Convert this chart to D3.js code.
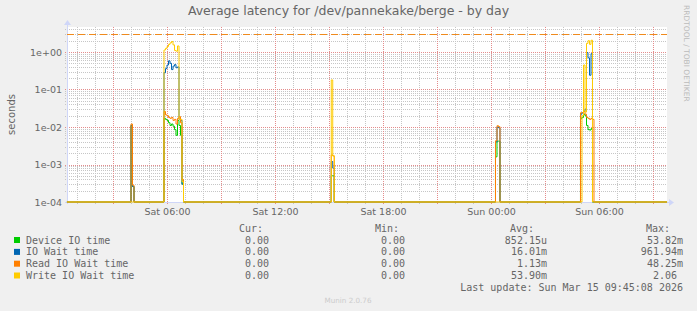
<!DOCTYPE html>
<html lang="en">
<head>
    <meta charset="UTF-8">
    <title>Average latency for /dev/pannekake/berge - by day</title>
    <style>
        body {
            margin: 0;
            background-color: #f0f0f0;
        }
        svg text {
            font-family: "DejaVu Sans", sans-serif;
            fill: #666;
        }
        .mono {
            font-family: "DejaVu Sans Mono", monospace !important;
            font-size: 10px;
            white-space: pre;
        }
    </style>
</head>
<body>
<div id="chart"></div>
<script src="https://d3js.org/d3.v7.min.js"></script>
<script>
    // --- data (hours after Sat 00:00, values in seconds) ---
    const sampleHours = [
        0.44, 3.917, 4.0, 4.083, 4.167,
        5.75, 5.833, 5.917, 6.0, 6.083, 6.167, 6.25, 6.333, 6.417, 6.5, 6.583, 6.667, 6.75, 6.833, 6.917,
        15.042, 15.125, 15.208, 15.292,
        24.167, 24.25, 24.333, 24.417, 24.5,
        28.889, 28.972, 29.056, 29.139, 29.222, 29.306, 29.389, 29.472, 29.556, 29.639, 29.722,
        33.78
    ];
    const deviceTime = [
        0, 0, 0.011, 0.00026, 0,
        0, 0.017, 0.016, 0.015, 0.013, 0.011, 0.012, 0.0105, 0.0085, 0.006, 0.015, 0.011, 0.006, 0.0003, 0,
        0, 0.0005, 0.0005, 0,
        0, 0.0016, 0.0042, 0.0042, 0,
        0, 0.017, 0.018, 0.022, 0.02, 0.011, 0.0085, 0.0083, 0.009, 0, 0,
        0
    ];
    const ioWaitTime = [
        0, 0, 0.011, 0.00026, 0,
        0, 0.28, 0.36, 0.45, 0.58, 0.5, 0.34, 0.42, 0.46, 0.38, 0.40, 0.016, 0.015, 0.0003, 0,
        0, 0.0012, 0.0008, 0,
        0, 0.004, 0.01, 0.0095, 0,
        0, 0.022, 0.024, 0.026, 0.03, 0.96, 0.7, 0.24, 0.9, 0, 0,
        0
    ];
    const readWaitTime = [
        0, 0, 0.012, 0.00028, 0,
        0, 0.026, 0.021, 0.02, 0.018, 0.017, 0.018, 0.015, 0.016, 0.012, 0.017, 0.019, 0.013, 0.0004, 0,
        0, 0.0018, 0.0017, 0,
        0, 0.0043, 0.0108, 0.0102, 0,
        0, 0.024, 0.024, 0.026, 0.022, 0.018, 0.017, 0.016, 0.017, 0.016, 0,
        0
    ];
    const writeWaitTime = [
        0, 0, 0, 0, 0,
        0, 1.13, 1.25, 1.4, 1.6, 1.75, 1.9, 1.55, 1.1, 1.05, 1.45, 0.016, 0.016, 0.00035, 0,
        0, 0.18, 0.0017, 0,
        0, 0, 0, 0, 0,
        0, 0, 0.02, 0.45, 0.025, 1.7, 2.0, 1.6, 2.06, 0, 0,
        0
    ];
    const hruleValue = 3;

    const seriesNames = ["Device IO time", "IO Wait time", "Read IO Wait time", "Write IO Wait time"];
    const seriesColors = ["#00cc00", "#0066b3", "#ff8000", "#ffcc00"];
    const curValues = ["0.00", "0.00", "0.00", "0.00"];
    const minValues = ["0.00", "0.00", "0.00", "0.00"];
    const avgValues = ["852.15u", "16.01m", "1.13m", "53.90m"];
    const maxValues = ["53.82m", "961.94m", "48.25m", "2.06"];
    const yTickValues = [1e-4, 1e-3, 1e-2, 1e-1, 1e0];
    const lastUpdate = "Last update: Sun Mar 15 09:45:08 2026";

    // --- 1. SETUP ---
    const W = 697, H = 311;
    const margin = {top: 27, right: 30, bottom: 109, left: 67};
    const width = W - margin.left - margin.right;   // 600
    const height = H - margin.top - margin.bottom;  // 175

    const svg = d3.select("#chart").append("svg")
        .attr("width", W)
        .attr("height", H);

    const base = Date.UTC(2026, 2, 14, 0, 0);
    const toDate = h => new Date(base + h * 3600e3);

    // --- 2. SCALES ---
    const x = d3.scaleUtc()
        .domain([toDate(0.444), toDate(33.778)])
        .range([0, width]);

    const y = d3.scaleLog()
        .domain([1e-4, Math.pow(10, 25 / 37.5)])
        .range([height, 0])
        .clamp(true);

    const g = svg.append("g")
        .attr("transform", `translate(${margin.left},${margin.top})`);

    // plot canvas
    g.append("rect")
        .attr("width", width)
        .attr("height", height)
        .attr("fill", "#fff");

    const px = v => Math.round(v) + 0.5;

    // --- 3. GRID ---
    const minorY = [];
    for (let e = -4; e <= 0; e++) {
        for (let m = 2; m <= 9; m++) {
            const v = m * Math.pow(10, e);
            if (v < y.domain()[1]) minorY.push(v);
        }
    }
    const hours = d3.utcHour.every(1).range(x.domain()[0], x.domain()[1]);
    const majorHours = hours.filter(d => d.getUTCHours() % 3 === 0);
    const minorHours = hours.filter(d => d.getUTCHours() % 3 !== 0);

    const minorColor = "#c6c6c6", majorColor = "#e48c8c";

    g.selectAll(".ygrid-minor").data(minorY).join("line")
        .attr("x1", -2).attr("x2", width)
        .attr("y1", d => px(y(d))).attr("y2", d => px(y(d)))
        .attr("stroke", minorColor).attr("stroke-dasharray", "1,1");

    g.selectAll(".xgrid-minor").data(minorHours).join("line")
        .attr("x1", d => px(x(d))).attr("x2", d => px(x(d)))
        .attr("y1", 0).attr("y2", height + 2)
        .attr("stroke", minorColor).attr("stroke-dasharray", "1,1");

    g.selectAll(".ygrid-major").data(yTickValues).join("line")
        .attr("x1", -2).attr("x2", width)
        .attr("y1", d => px(y(d))).attr("y2", d => px(y(d)))
        .attr("stroke", majorColor).attr("stroke-dasharray", "1,1");

    g.selectAll(".xgrid-major").data(majorHours).join("line")
        .attr("x1", d => px(x(d))).attr("x2", d => px(x(d)))
        .attr("y1", 0).attr("y2", height + 2)
        .attr("stroke", majorColor).attr("stroke-dasharray", "1,1");

    // --- 4. AXES ---
    const fmtExp = v => {
        const e = Math.round(Math.log10(v));
        return "1e" + (e < 0 ? "-" : "+") + String(Math.abs(e)).padStart(2, "0");
    };

    const yAxis = g.append("g")
        .call(d3.axisLeft(y).tickValues(yTickValues).tickFormat(fmtExp).tickSize(0).tickPadding(5));
    yAxis.select(".domain").remove();
    yAxis.selectAll("text")
        .attr("font-family", null)
        .style("font-size", "9.5px")
        .style("fill", "#666");

    const xAxis = g.append("g")
        .attr("transform", `translate(0,${height})`)
        .call(d3.axisBottom(x)
            .tickValues(hours.filter(d => d.getUTCHours() % 6 === 0))
            .tickFormat(d3.utcFormat("%a %H:%M"))
            .tickSize(0).tickPadding(6));
    xAxis.select(".domain").remove();
    xAxis.selectAll("text")
        .attr("font-family", null)
        .style("font-size", "9.5px")
        .style("fill", "#666");

    // axis lines + arrows
    const axisColor = "#cfd6f8";
    g.append("line")
        .attr("x1", 0.5).attr("x2", 0.5).attr("y1", -3).attr("y2", height + 2)
        .attr("stroke", axisColor);
    g.append("line")
        .attr("x1", -2).attr("x2", width + 3).attr("y1", height + 0.5).attr("y2", height + 0.5)
        .attr("stroke", axisColor);
    g.append("path")
        .attr("d", `M-3,-2 L0.5,-7 L4,-2 Z`)
        .attr("fill", axisColor);
    g.append("path")
        .attr("d", `M${width + 2},${height - 3} L${width + 7},${height + 0.5} L${width + 2},${height + 4} Z`)
        .attr("fill", axisColor);

    // --- 5. SERIES ---
    const allSeries = [deviceTime, ioWaitTime, readWaitTime, writeWaitTime];
    const line = d3.line()
        .x(d => x(toDate(d[0])))
        .y(d => d[1] > 0 ? y(d[1]) : height)
        .curve(d3.curveStepAfter);

    allSeries.forEach((vals, i) => {
        g.append("path")
            .datum(sampleHours.map((h, k) => [h, vals[k]]))
            .attr("d", line)
            .attr("fill", "none")
            .attr("stroke", seriesColors[i])
            .attr("stroke-width", 1);
    });

    // dashed horizontal rule
    g.append("line")
        .attr("x1", 0).attr("x2", width)
        .attr("y1", px(y(hruleValue))).attr("y2", px(y(hruleValue)))
        .attr("stroke", "#f08a1c")
        .attr("stroke-dasharray", "7,4");

    // --- 6. TITLES ---
    svg.append("text")
        .attr("x", 348.5).attr("y", 15)
        .attr("text-anchor", "middle")
        .style("font-size", "12.5px")
        .text("Average latency for /dev/pannekake/berge - by day");

    svg.append("text")
        .attr("transform", `translate(15,${margin.top + height / 2}) rotate(-90)`)
        .attr("text-anchor", "middle")
        .style("font-size", "10px")
        .text("seconds");

    svg.append("text")
        .attr("transform", "translate(684,5) rotate(90)")
        .style("font-size", "7.5px")
        .style("fill", "#bbb")
        .text("RRDTOOL / TOBI OETIKER");

    // --- 7. LEGEND ---
    const rowY = [243.5, 255.4, 267.2, 279];
    const colEnd = [275, 411, 547, 683];
    const headers = ["Cur:", "Min:", "Avg:", "Max:"];
    const headerEnd = [263, 399, 534, 670];

    headers.forEach((h, j) => {
        svg.append("text").attr("class", "mono")
            .attr("x", headerEnd[j]).attr("y", 231.5)
            .attr("text-anchor", "end")
            .text(h);
    });

    const withUnit = s => /[a-zA-Z]$/.test(s) ? s : s + " ";
    seriesNames.forEach((name, i) => {
        svg.append("rect")
            .attr("x", 14).attr("y", rowY[i] - 6.5)
            .attr("width", 6).attr("height", 6)
            .attr("fill", seriesColors[i]);
        svg.append("text").attr("class", "mono")
            .attr("x", 26).attr("y", rowY[i])
            .text(name);
        [curValues[i], minValues[i], avgValues[i], maxValues[i]].forEach((v, j) => {
            svg.append("text").attr("class", "mono")
                .attr("x", colEnd[j]).attr("y", rowY[i])
                .attr("text-anchor", "end")
                .text(withUnit(v));
        });
    });

    svg.append("text").attr("class", "mono")
        .attr("x", 683).attr("y", 291.2)
        .attr("text-anchor", "end")
        .text(lastUpdate);

    svg.append("text")
        .attr("x", 348).attr("y", 302.5)
        .attr("text-anchor", "middle")
        .style("font-size", "7.2px")
        .style("fill", "#ccc")
        .text("Munin 2.0.76");
</script>
</body>
</html>
